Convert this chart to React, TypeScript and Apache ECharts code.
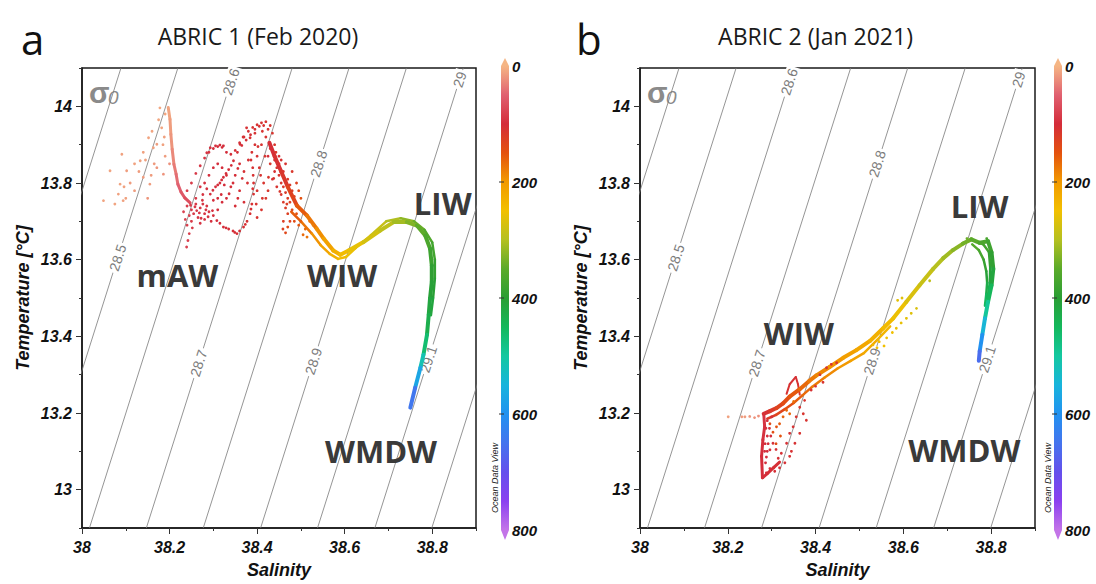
import React, { useEffect, useRef } from 'react';
import * as echarts from 'echarts';

// ---------- axes ----------
const SAL_MIN = 38;
const SAL_MAX = 38.9;
const T_MIN = 12.9;
const T_MAX = 14.1;
const salTickLabels = [38, 38.2, 38.4, 38.6, 38.8];
const tempTickLabels = [13, 13.2, 13.4, 13.6, 13.8, 14];

// ---------- isopycnals (sigma0), salinity where each crosses T_MIN and T_MAX ----------
const isoSigma = [28.4, 28.5, 28.6, 28.7, 28.8, 28.9, 29, 29.1, 29.2];
const isoSalAtTmin = [37.756, 37.886, 38.017, 38.147, 38.277, 38.408, 38.538, 38.669, 38.799];
const isoSalAtTmax = [38.089, 38.219, 38.350, 38.480, 38.610, 38.741, 38.871, 39.002, 39.132];
const isoLabelTemp = [null, 13.605, 14.064, 13.33, 13.85, 13.335, 14.07, 13.34, null];

// ---------- depth colour scale (ODV rainbow), 0..800 m ----------
const DEPTH_MIN = 0;
const DEPTH_MAX = 800;
const depthColors = [
  '#f5b584', '#e06070', '#d42c3a', '#e4520e', '#f29a00', '#f2c000', '#b4c020', '#5aaa2a',
  '#2a9e34', '#14b85c', '#14c8a0', '#18b4dc', '#2292f0', '#4474ee', '#6450ec', '#8a40f0', '#c374e8',
];
const colorbarTicks = [0, 200, 400, 600, 800];

const panelTitles = ['ABRIC 1 (Feb 2020)', 'ABRIC 2 (Jan 2021)'];
const panelLetters = ['a', 'b'];

// ---------- panel a data: [salinity, temperature, depth] ----------
const aStreak = [
  [38.197, 13.997, 8], [38.201, 13.966, 12], [38.203, 13.927, 16], [38.206, 13.888, 22],
  [38.210, 13.849, 30], [38.215, 13.823, 38], [38.219, 13.797, 46], [38.226, 13.777, 54],
  [38.235, 13.761, 62], [38.247, 13.748, 72],
];
const aCore = [
  [38.428, 13.905, 100], [38.440, 13.870, 104], [38.455, 13.830, 110], [38.470, 13.790, 122],
  [38.491, 13.741, 145], [38.514, 13.715, 165],
  [38.536, 13.681, 185], [38.552, 13.655, 200], [38.574, 13.624, 220], [38.590, 13.613, 238],
  [38.609, 13.624, 252], [38.643, 13.646, 266], [38.681, 13.676, 284], [38.712, 13.698, 300],
  [38.742, 13.698, 318], [38.765, 13.689, 338], [38.784, 13.663, 358], [38.795, 13.629, 372],
  [38.799, 13.585, 388], [38.799, 13.542, 400], [38.795, 13.499, 410], [38.792, 13.456, 422],
  [38.788, 13.404, 440], [38.780, 13.352, 490], [38.773, 13.318, 540], [38.761, 13.266, 600],
  [38.750, 13.214, 690],
];
const aCore2 = [
  [38.478, 13.725, 150], [38.500, 13.700, 165], [38.525, 13.668, 185], [38.545, 13.638, 205],
  [38.566, 13.615, 222], [38.585, 13.602, 238], [38.603, 13.607, 250], [38.625, 13.630, 260],
  [38.660, 13.664, 276], [38.695, 13.700, 293], [38.728, 13.708, 310], [38.758, 13.700, 332],
  [38.782, 13.678, 352], [38.800, 13.645, 368], [38.806, 13.600, 382], [38.806, 13.550, 396],
  [38.802, 13.500, 408], [38.797, 13.455, 420],
];
const aCloud = [
  // surface (peach)
  [38.049, 13.754, 10], [38.083, 13.771, 12], [38.087, 13.797, 10], [38.091, 13.875, 12], [38.102, 13.832, 14],
  [38.133, 13.858, 12], [38.140, 13.815, 15], [38.152, 13.918, 10], [38.163, 13.892, 12], [38.171, 13.901, 14],
  [38.178, 13.996, 8], [38.182, 13.944, 10], [38.171, 13.840, 18], [38.186, 13.823, 20], [38.155, 13.797, 15],
  [38.094, 13.754, 12], [38.064, 13.832, 10], [38.120, 13.780, 14], [38.145, 13.860, 12], [38.160, 13.935, 10],
  [38.175, 13.965, 8], [38.190, 13.980, 8], [38.110, 13.800, 15], [38.130, 13.830, 15], [38.185, 13.900, 12],
  [38.190, 13.870, 15], [38.100, 13.760, 12], [38.075, 13.745, 10], [38.140, 13.880, 12], [38.165, 13.850, 16],
  [38.200, 13.850, 22], [38.188, 13.920, 12], [38.120, 13.850, 12], [38.158, 13.820, 15], [38.096, 13.790, 12],
  [38.150, 13.760, 18],
  // mAW clump
  [38.240, 13.740, 82], [38.250, 13.730, 85], [38.260, 13.745, 88], [38.270, 13.735, 90], [38.280, 13.720, 92],
  [38.265, 13.710, 90], [38.255, 13.720, 86], [38.245, 13.715, 84], [38.285, 13.740, 92], [38.290, 13.725, 94],
  [38.275, 13.755, 90], [38.260, 13.760, 86], [38.300, 13.715, 96], [38.295, 13.700, 95], [38.270, 13.695, 92],
  [38.250, 13.700, 86], [38.240, 13.690, 84], [38.245, 13.668, 82], [38.242, 13.650, 82], [38.239, 13.633, 80],
  [38.252, 13.683, 86], [38.280, 13.705, 93], [38.310, 13.730, 98], [38.232, 13.725, 78], [38.236, 13.705, 80],
  [38.262, 13.728, 88], [38.276, 13.745, 90], [38.258, 13.738, 88], [38.268, 13.722, 90], [38.288, 13.712, 94],
  [38.248, 13.742, 84], [38.272, 13.708, 92], [38.283, 13.730, 93], [38.298, 13.728, 96],
  // upper ridge to the 13.96 peak
  [38.240, 13.780, 84], [38.250, 13.800, 86], [38.260, 13.825, 88], [38.270, 13.845, 90], [38.280, 13.865, 92],
  [38.290, 13.880, 94], [38.300, 13.890, 96], [38.310, 13.895, 98], [38.320, 13.893, 100], [38.330, 13.880, 100],
  [38.340, 13.875, 102], [38.350, 13.885, 104], [38.360, 13.905, 104], [38.370, 13.920, 106], [38.380, 13.935, 106],
  [38.390, 13.945, 108], [38.400, 13.952, 108], [38.410, 13.957, 110], [38.420, 13.960, 110], [38.430, 13.950, 112],
  [38.435, 13.930, 112], [38.440, 13.900, 114], [38.443, 13.880, 116], [38.395, 13.940, 106], [38.385, 13.926, 104],
  [38.375, 13.912, 104], [38.365, 13.898, 102], [38.405, 13.948, 108], [38.415, 13.950, 110], [38.425, 13.940, 110],
  // shelf near 13.9
  [38.285, 13.879, 92], [38.293, 13.892, 94], [38.305, 13.897, 96], [38.315, 13.899, 97], [38.323, 13.897, 98],
  // second ridge
  [38.293, 13.771, 96], [38.305, 13.790, 97], [38.315, 13.800, 98], [38.323, 13.815, 100], [38.335, 13.835, 102],
  [38.346, 13.858, 102], [38.355, 13.880, 104], [38.361, 13.901, 104], [38.368, 13.920, 106], [38.376, 13.944, 106],
  [38.299, 13.781, 96], [38.310, 13.795, 98], [38.319, 13.808, 99], [38.329, 13.825, 101], [38.341, 13.846, 102],
  // third ridge and lower loop
  [38.384, 13.918, 108], [38.388, 13.880, 108], [38.390, 13.840, 108], [38.392, 13.800, 108], [38.392, 13.771, 108],
  [38.388, 13.745, 108], [38.384, 13.720, 107], [38.377, 13.700, 106], [38.369, 13.685, 106], [38.360, 13.675, 104],
  [38.354, 13.668, 104], [38.345, 13.675, 102], [38.335, 13.680, 102], [38.323, 13.685, 100], [38.315, 13.695, 100],
  [38.308, 13.702, 99], [38.386, 13.860, 108], [38.391, 13.820, 108], [38.390, 13.785, 108], [38.386, 13.732, 107],
  [38.373, 13.692, 106], [38.349, 13.671, 104], [38.329, 13.683, 101],
  // filling between ridges
  [38.330, 13.760, 100], [38.340, 13.790, 102], [38.350, 13.820, 102], [38.360, 13.780, 104], [38.370, 13.750, 104],
  [38.350, 13.740, 102], [38.320, 13.750, 100], [38.310, 13.760, 99], [38.400, 13.870, 108], [38.410, 13.900, 110],
  [38.405, 13.840, 110], [38.415, 13.800, 112], [38.420, 13.760, 114], [38.410, 13.730, 112], [38.400, 13.710, 110],
  [38.430, 13.850, 114], [38.420, 13.920, 110], [38.395, 13.900, 108], [38.380, 13.860, 106], [38.370, 13.830, 106],
  [38.360, 13.850, 104], [38.345, 13.800, 102], [38.330, 13.820, 102], [38.320, 13.840, 100], [38.310, 13.850, 98],
  [38.300, 13.840, 97], [38.290, 13.820, 96], [38.280, 13.800, 94], [38.270, 13.790, 92], [38.425, 13.780, 114],
  [38.400, 13.780, 110], [38.378, 13.800, 106], [38.412, 13.935, 110], [38.395, 13.930, 108], [38.336, 13.772, 101],
  [38.356, 13.760, 103], [38.366, 13.812, 105], [38.408, 13.820, 110], [38.418, 13.870, 112], [38.402, 13.895, 109],
  [38.426, 13.815, 114], [38.412, 13.760, 112], [38.398, 13.745, 110], [38.356, 13.838, 104], [38.325, 13.795, 100],
  [38.318, 13.770, 99], [38.285, 13.785, 95], [38.276, 13.770, 93], [38.300, 13.755, 97], [38.438, 13.812, 116],
  // dense cluster feeding the main trace
  [38.440, 13.860, 106], [38.445, 13.840, 110], [38.450, 13.820, 112], [38.455, 13.800, 115], [38.460, 13.790, 118],
  [38.465, 13.775, 120], [38.470, 13.760, 124], [38.475, 13.750, 128], [38.450, 13.850, 108], [38.460, 13.830, 114],
  [38.470, 13.810, 118], [38.475, 13.795, 120], [38.480, 13.780, 124], [38.485, 13.765, 130], [38.440, 13.830, 108],
  [38.435, 13.810, 106], [38.445, 13.790, 110], [38.455, 13.770, 115], [38.460, 13.750, 118], [38.465, 13.735, 120],
  [38.470, 13.720, 126], [38.475, 13.700, 130], [38.460, 13.700, 124], [38.459, 13.680, 128], [38.480, 13.730, 138],
  [38.490, 13.720, 148], [38.500, 13.700, 158], [38.510, 13.680, 166], [38.514, 13.659, 172], [38.505, 13.665, 166],
  [38.495, 13.690, 152], [38.485, 13.700, 142], [38.450, 13.870, 105], [38.455, 13.860, 108], [38.430, 13.890, 102],
  [38.425, 13.870, 100], [38.465, 13.850, 110], [38.480, 13.830, 116], [38.490, 13.800, 128], [38.495, 13.780, 138],
  [38.500, 13.760, 148], [38.465, 13.670, 136], [38.470, 13.685, 140], [38.520, 13.700, 174], [38.528, 13.690, 180],
  [38.446, 13.850, 108], [38.462, 13.812, 116], [38.478, 13.772, 126], [38.452, 13.778, 114], [38.468, 13.745, 122],
];

// ---------- panel b data ----------
const bLoop = [
  [38.282, 13.198, 92], [38.284, 13.164, 94], [38.280, 13.130, 96], [38.277, 13.087, 98],
  [38.279, 13.031, 100], [38.290, 13.042, 102], [38.305, 13.058, 104], [38.318, 13.072, 106],
];
const bSpike = [
  [38.334, 13.250, 110], [38.341, 13.275, 108], [38.355, 13.294, 105], [38.360, 13.275, 108], [38.364, 13.248, 115],
];
const bCore = [
  [38.282, 13.198, 100], [38.296, 13.205, 112], [38.311, 13.213, 125], [38.326, 13.225, 138],
  [38.341, 13.243, 148], [38.364, 13.262, 160], [38.385, 13.283, 172], [38.402, 13.298, 182],
  [38.432, 13.320, 192], [38.463, 13.344, 202], [38.493, 13.364, 212], [38.524, 13.388, 222],
  [38.554, 13.421, 235], [38.577, 13.447, 248], [38.607, 13.490, 262], [38.637, 13.533, 278],
  [38.668, 13.576, 292], [38.691, 13.604, 305], [38.713, 13.625, 318], [38.736, 13.642, 330],
  [38.755, 13.653, 342], [38.774, 13.644, 358], [38.793, 13.648, 372], [38.801, 13.619, 385],
  [38.805, 13.576, 400], [38.801, 13.533, 428], [38.793, 13.490, 468], [38.786, 13.447, 520],
  [38.780, 13.404, 570], [38.774, 13.361, 630], [38.772, 13.336, 690],
];
const bCore2 = [
  [38.290, 13.185, 112], [38.310, 13.195, 128], [38.330, 13.210, 140], [38.350, 13.226, 150],
  [38.370, 13.246, 162], [38.392, 13.268, 172], [38.420, 13.292, 184], [38.450, 13.316, 194],
  [38.480, 13.336, 204], [38.510, 13.356, 214], [38.540, 13.390, 228], [38.570, 13.426, 242],
];
const bCore3 = [
  [38.757, 13.640, 348], [38.772, 13.625, 362], [38.783, 13.600, 378], [38.789, 13.570, 395],
  [38.791, 13.540, 415], [38.789, 13.510, 440], [38.786, 13.480, 468],
];
const bCore4 = [
  [38.765, 13.648, 350], [38.782, 13.640, 366], [38.795, 13.620, 382], [38.798, 13.580, 398],
  [38.797, 13.540, 420], [38.792, 13.500, 450],
];
const bCloud = [
  [38.201, 13.190, 12], [38.232, 13.190, 15], [38.239, 13.190, 15], [38.250, 13.191, 18], [38.261, 13.188, 20],
  [38.270, 13.192, 22],
  [38.288, 13.044, 102], [38.296, 13.055, 104], [38.307, 13.048, 104], [38.318, 13.057, 106], [38.330, 13.070, 106],
  [38.341, 13.087, 108], [38.353, 13.121, 108], [38.364, 13.147, 110], [38.379, 13.181, 110], [38.372, 13.198, 112],
  [38.375, 13.233, 112], [38.296, 13.104, 102], [38.303, 13.121, 104], [38.315, 13.082, 104], [38.322, 13.095, 106],
  [38.334, 13.121, 106], [38.341, 13.147, 108], [38.349, 13.164, 108], [38.356, 13.190, 110], [38.364, 13.215, 112],
  [38.290, 13.180, 96], [38.295, 13.160, 98], [38.290, 13.140, 98], [38.285, 13.120, 98], [38.290, 13.100, 100],
  [38.286, 13.070, 98], [38.300, 13.190, 104], [38.345, 13.100, 108], [38.310, 13.105, 104], [38.287, 13.160, 96],
  [38.292, 13.120, 98], [38.284, 13.100, 98], [38.288, 13.085, 99], [38.298, 13.140, 100],
  [38.311, 13.164, 150], [38.318, 13.172, 155], [38.326, 13.190, 160], [38.334, 13.207, 165], [38.303, 13.150, 145],
  [38.296, 13.172, 140], [38.341, 13.198, 165], [38.350, 13.230, 170], [38.320, 13.140, 150], [38.310, 13.120, 140],
  [38.417, 13.280, 110], [38.425, 13.318, 110], [38.436, 13.327, 112], [38.448, 13.331, 114], [38.410, 13.300, 110],
  [38.400, 13.270, 108], [38.390, 13.260, 108],
  [38.531, 13.378, 240], [38.545, 13.386, 245], [38.562, 13.396, 250], [38.575, 13.410, 252], [38.584, 13.421, 255],
  [38.595, 13.435, 258], [38.607, 13.447, 262], [38.618, 13.460, 266], [38.630, 13.473, 270], [38.587, 13.494, 262],
  [38.597, 13.500, 265], [38.540, 13.370, 245], [38.556, 13.375, 250], [38.660, 13.545, 290], [38.700, 13.612, 310],
  [38.745, 13.655, 340], [38.790, 13.655, 370], [38.800, 13.600, 390],
];

const waterMassA = [['mAW', 38.218, 13.560], ['WIW', 38.594, 13.560], ['LIW', 38.824, 13.748], ['WMDW', 38.683, 13.102]];
const waterMassB = [['LIW', 38.774, 13.741], ['WIW', 38.362, 13.409], ['WMDW', 38.739, 13.104]];

// ---------- layout ----------
const GRIDS = [
  { left: 82, top: 68, width: 394, height: 463 },
  { left: 640, top: 68, width: 395, height: 464 },
];
const COLORBARS = [
  { x: 501, w: 8, top: 66, bottom: 530, labelX: 512, odvX: 495 },
  { x: 1054, w: 8, top: 66, bottom: 530, labelX: 1065, odvX: 1048 },
];

function segments(poly: number[][]) {
  const out: number[][] = [];
  for (let i = 0; i < poly.length - 1; i++) {
    const a = poly[i];
    const b = poly[i + 1];
    out.push([a[0], a[1], (a[2] + b[2]) / 2, b[0], b[1]]);
  }
  return out;
}

const tickFont = { fontFamily: 'Liberation Sans', fontWeight: 'bold' as const, fontStyle: 'italic' as const, color: '#111' };

function buildOption() {
  const series: any[] = [];
  const colored: number[] = [];

  const panelData = [
    { cores: [[aStreak, 3], [aCore2, 2.5], [aCore, 4]], cloud: aCloud, marks: waterMassA },
    { cores: [[bLoop, 3], [bSpike, 2], [bCore2, 2.5], [bCore3, 2.5], [bCore4, 2.5], [bCore, 4]], cloud: bCloud, marks: waterMassB },
  ];

  panelData.forEach((pd, g) => {
    isoSigma.forEach((sig, i) => {
      series.push({
        type: 'line', xAxisIndex: g, yAxisIndex: g, symbol: 'none', silent: true, z: 1, clip: true,
        data: [[isoSalAtTmin[i], T_MIN], [isoSalAtTmax[i], T_MAX]],
        lineStyle: { color: '#7a7a7a', width: 0.8 },
      });
    });
    const labelData: any[] = [];
    isoSigma.forEach((sig, i) => {
      const t = isoLabelTemp[i];
      if (t == null) return;
      const s = isoSalAtTmin[i] + ((t - T_MIN) / (T_MAX - T_MIN)) * (isoSalAtTmax[i] - isoSalAtTmin[i]);
      labelData.push({ value: [s, t], name: String(sig) });
    });
    series.push({
      type: 'scatter', xAxisIndex: g, yAxisIndex: g, silent: true, z: 2, symbolSize: 0,
      itemStyle: { color: '#ffffff', opacity: 1 },
      data: labelData,
      label: {
        show: true, position: 'inside', formatter: '{b}', rotate: 72, color: '#7c7c7c', fontSize: 14,
        fontFamily: 'Liberation Sans', backgroundColor: '#ffffff', padding: [0, 2],
      },
    });
    pd.cores.forEach(([poly, w]: any) => {
      colored.push(series.length);
      series.push({
        type: 'custom', xAxisIndex: g, yAxisIndex: g, silent: true, z: 3,
        encode: { x: 0, y: 1 },
        data: segments(poly),
        renderItem: (params: any, api: any) => {
          const p1 = api.coord([api.value(0), api.value(1)]);
          const p2 = api.coord([api.value(3), api.value(4)]);
          return {
            type: 'line',
            shape: { x1: p1[0], y1: p1[1], x2: p2[0], y2: p2[1] },
            style: { stroke: api.visual('color'), lineWidth: w, lineCap: 'round' },
          };
        },
      });
    });
    colored.push(series.length);
    series.push({
      type: 'scatter', xAxisIndex: g, yAxisIndex: g, silent: true, z: 4, symbolSize: 2.8,
      itemStyle: { opacity: 1 },
      data: pd.cloud,
    });
    series.push({
      type: 'scatter', xAxisIndex: g, yAxisIndex: g, silent: true, z: 5, symbolSize: 0,
      itemStyle: { color: '#ffffff', opacity: 1 },
      data: pd.marks.map((m: any) => ({ value: [m[1], m[2]], name: m[0] })),
      label: {
        show: true, position: 'inside', formatter: '{b}', color: '#3a3a3a', fontSize: 31,
        fontWeight: 'bold', fontFamily: 'Open Sans', textBorderWidth: 0,
      },
    });
  });

  const mainX = (g: number) => ({
    type: 'value', gridIndex: g, min: SAL_MIN, max: SAL_MAX, interval: 0.1, position: 'bottom',
    axisLine: { show: true, onZero: false, lineStyle: { color: '#1a1a1a', width: 1.5 } },
    axisTick: { show: true, length: 3, lineStyle: { color: '#333', width: 1 } },
    axisLabel: { customValues: salTickLabels, formatter: (v: number) => String(v), fontSize: 16, margin: 11, ...tickFont },
    splitLine: { show: false },
    name: 'Salinity', nameLocation: 'middle', nameGap: 33,
    nameTextStyle: { fontSize: 18, ...tickFont },
  });
  const majorX = (g: number) => ({
    type: 'value', gridIndex: g, min: SAL_MIN, max: SAL_MAX, position: 'bottom',
    axisLine: { show: false },
    axisTick: { show: true, length: 6, customValues: salTickLabels, lineStyle: { color: '#333', width: 1 } },
    axisLabel: { show: false }, splitLine: { show: false },
  });
  const mainY = (g: number) => ({
    type: 'value', gridIndex: g, min: T_MIN, max: T_MAX, interval: 0.1, position: 'left',
    axisLine: { show: true, onZero: false, lineStyle: { color: '#1a1a1a', width: 1.5 } },
    axisTick: { show: true, length: 3, lineStyle: { color: '#333', width: 1 } },
    axisLabel: { customValues: tempTickLabels, formatter: (v: number) => String(v), fontSize: 16, margin: 10, ...tickFont },
    splitLine: { show: false },
    name: 'Temperature [°C]', nameLocation: 'middle', nameGap: 50, nameRotate: 90,
    nameTextStyle: { fontSize: 18, ...tickFont },
  });
  const majorY = (g: number) => ({
    type: 'value', gridIndex: g, min: T_MIN, max: T_MAX, position: 'left',
    axisLine: { show: false },
    axisTick: { show: true, length: 6, customValues: tempTickLabels, lineStyle: { color: '#333', width: 1 } },
    axisLabel: { show: false }, splitLine: { show: false },
  });

  const graphic: any[] = [];
  const stops = depthColors.map((c, i) => ({ offset: i / (depthColors.length - 1), color: c }));
  GRIDS.forEach((gr, g) => {
    const cx = gr.left + gr.width / 2;
    graphic.push({
      type: 'text', x: cx + (g === 0 ? -21 : -22), y: 36,
      style: { text: panelTitles[g], fontSize: 23, fontFamily: 'Open Sans', fill: '#1a1a1a', textAlign: 'center', textVerticalAlign: 'middle', align: 'center', verticalAlign: 'middle' },
    });
    graphic.push({
      type: 'text', x: gr.left - 61 - (g === 0 ? 0 : 3), y: 38,
      style: { text: panelLetters[g], fontSize: 42, fontFamily: 'Open Sans', fill: '#111', textAlign: 'left', textVerticalAlign: 'middle', align: 'left', verticalAlign: 'middle' },
    });
    graphic.push({
      type: 'text', x: gr.left + 7, y: 92,
      style: { text: 'σ', fontSize: 30, fontWeight: 'bold', fontFamily: 'Liberation Sans', fill: '#8a8a8a', textAlign: 'left', textVerticalAlign: 'middle', align: 'left', verticalAlign: 'middle' },
    });
    graphic.push({
      type: 'text', x: gr.left + 26, y: 97,
      style: { text: '0', fontSize: 19, fontStyle: 'italic', fontFamily: 'Liberation Sans', fill: '#8a8a8a', textAlign: 'left', textVerticalAlign: 'middle', align: 'left', verticalAlign: 'middle' },
    });
    const cb = COLORBARS[g];
    const yOf = (v: number) => cb.top + ((v - DEPTH_MIN) / (DEPTH_MAX - DEPTH_MIN)) * (cb.bottom - cb.top);
    graphic.push({
      type: 'rect', shape: { x: cb.x, y: cb.top, width: cb.w, height: cb.bottom - cb.top },
      style: { fill: new echarts.graphic.LinearGradient(0, 0, 0, 1, stops) },
    });
    graphic.push({
      type: 'polygon', shape: { points: [[cb.x, cb.top], [cb.x + cb.w / 2, cb.top - 8], [cb.x + cb.w, cb.top]] },
      style: { fill: depthColors[0] },
    });
    graphic.push({
      type: 'polygon', shape: { points: [[cb.x, cb.bottom], [cb.x + cb.w / 2, cb.bottom + 10], [cb.x + cb.w, cb.bottom]] },
      style: { fill: depthColors[depthColors.length - 1] },
    });
    colorbarTicks.forEach((v, i) => {
      const y = yOf(v);
      if (i > 0 && i < colorbarTicks.length - 1) {
        graphic.push({ type: 'line', shape: { x1: cb.x - 2, y1: y, x2: cb.x + 3, y2: y }, style: { stroke: '#333', lineWidth: 1 } });
      }
      graphic.push({
        type: 'text', x: cb.labelX, y: y,
        style: { text: String(v), fontSize: 15, fontWeight: 'bold', fontStyle: 'italic', fontFamily: 'Liberation Sans', fill: '#111', textAlign: 'left', textVerticalAlign: 'middle', align: 'left', verticalAlign: 'middle' },
      });
    });
    graphic.push({
      type: 'text', x: cb.odvX, y: 478, rotation: Math.PI / 2,
      style: { text: 'Ocean Data View', fontSize: 9, fontStyle: 'italic', fontFamily: 'Liberation Sans', fill: '#222', textAlign: 'center', textVerticalAlign: 'middle', align: 'center', verticalAlign: 'middle' },
    });
  });

  return {
    animation: false,
    backgroundColor: '#ffffff',
    grid: GRIDS.map((g) => ({ ...g, show: true, borderColor: '#1a1a1a', borderWidth: 1.5, backgroundColor: 'transparent' })),
    xAxis: [mainX(0), mainX(1), majorX(0), majorX(1)],
    yAxis: [mainY(0), mainY(1), majorY(0), majorY(1)],
    visualMap: [{
      type: 'continuous', show: false, min: DEPTH_MIN, max: DEPTH_MAX, dimension: 2,
      seriesIndex: colored, inRange: { color: depthColors },
    }],
    graphic,
    series,
  };
}

export default function App() {
  const ref = useRef<HTMLDivElement>(null);
  useEffect(() => {
    if (!ref.current) return;
    const chart = echarts.init(ref.current, undefined, { renderer: 'svg' });
    chart.setOption(buildOption() as any);
    return () => chart.dispose();
  }, []);
  return <div ref={ref} style={{ position: 'absolute', left: 0, top: 0, width: 1096, height: 584 }} />;
}
